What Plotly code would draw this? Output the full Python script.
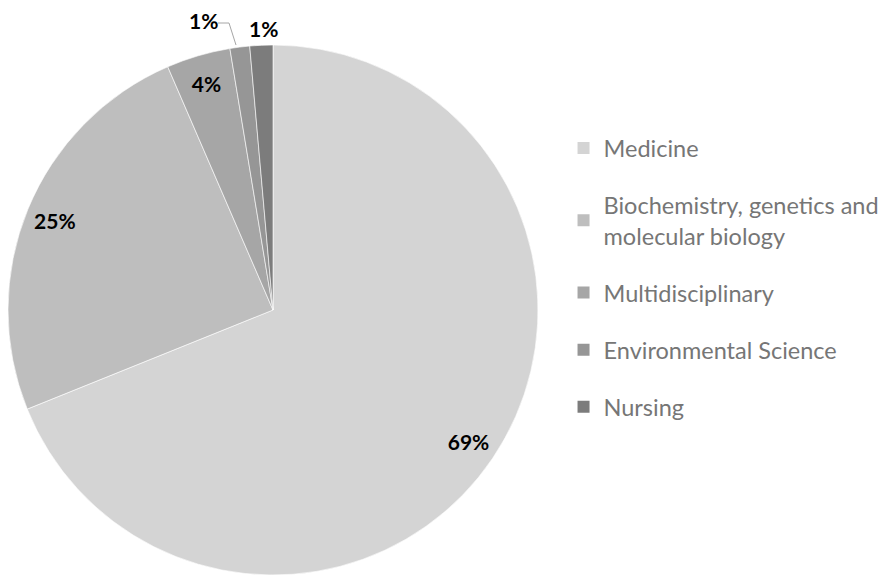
import plotly.graph_objects as go

labels = ["Medicine", "Biochemistry, genetics and<br>molecular biology",
          "Multidisciplinary", "Environmental Science", "Nursing"]
values = [68.9, 24.6, 3.9, 1.2, 1.4]
colors = ["#d4d4d4", "#bebebe", "#a6a6a6", "#969696", "#7c7c7c"]
# the two 1% slices get their labels outside, as annotations below
text_pos = ["inside", "inside", "inside", "none", "none"]

W, H = 888, 575
OFF = 8  # page body margin shifts the figure by 8px


def px(x):
    return (x - OFF) / W


def py(y):
    return 1 - (y - OFF) / H


dom = dict(x=[0.0, 530 / W], y=[OFF / H, (OFF + 530) / H])
lbl_font = dict(family="Lato", size=21, color="black", weight="bold")

fig = go.Figure()

# base pie, no text
fig.add_trace(go.Pie(
    labels=labels, values=values, sort=False, direction="clockwise", rotation=0,
    marker=dict(colors=colors, line=dict(color="white", width=0.6)),
    textinfo="none", showlegend=False, hoverinfo="label+percent",
    domain=dom,
))

# transparent ring on top, only to place the % labels near the rim
fig.add_trace(go.Pie(
    labels=labels, values=values, sort=False, direction="clockwise", rotation=0,
    hole=0.78,
    marker=dict(colors=["rgba(0,0,0,0)"] * 5, line=dict(width=0)),
    texttemplate="%{percent:.0%}", textposition=text_pos,
    insidetextorientation="horizontal",
    textfont=lbl_font,
    showlegend=False, hoverinfo="skip",
    domain=dom,
))

# outside labels for the small slices
pct = [round(v / sum(values) * 100) for v in values]
fig.add_annotation(x=px(203), y=py(20), xref="paper", yref="paper",
                   xanchor="center", yanchor="middle", borderpad=0,
                   text=f"{pct[3]}%", showarrow=False, font=lbl_font)
fig.add_annotation(x=px(263), y=py(28), xref="paper", yref="paper",
                   xanchor="center", yanchor="middle", borderpad=0,
                   text=f"{pct[4]}%", showarrow=False, font=lbl_font)
fig.add_shape(type="path", xref="paper", yref="paper",
              path=f"M {px(218)} {py(23)} L {px(229)} {py(23)} L {px(236)} {py(45)}",
              line=dict(color="#a6a6a6", width=1))

# legend entries, one group each so the rows can be spaced out
for name, c in zip(labels, colors):
    fig.add_trace(go.Scatter(
        x=[None], y=[None], mode="markers", name=name, legendgroup=name,
        marker=dict(symbol="square", size=12, color=c),
    ))

fig.update_xaxes(visible=False)
fig.update_yaxes(visible=False)
fig.update_layout(
    width=W, height=H,
    margin=dict(l=0, r=0, t=0, b=0),
    paper_bgcolor="white", plot_bgcolor="white",
    font=dict(family="Lato", color="#767676"),
    legend=dict(x=0.6256, y=0.531, xanchor="left", yanchor="middle",
                font=dict(family="Lato", size=23.5, color="#767676"),
                tracegroupgap=23.5, itemwidth=30),
)

fig.write_html("out.html")
